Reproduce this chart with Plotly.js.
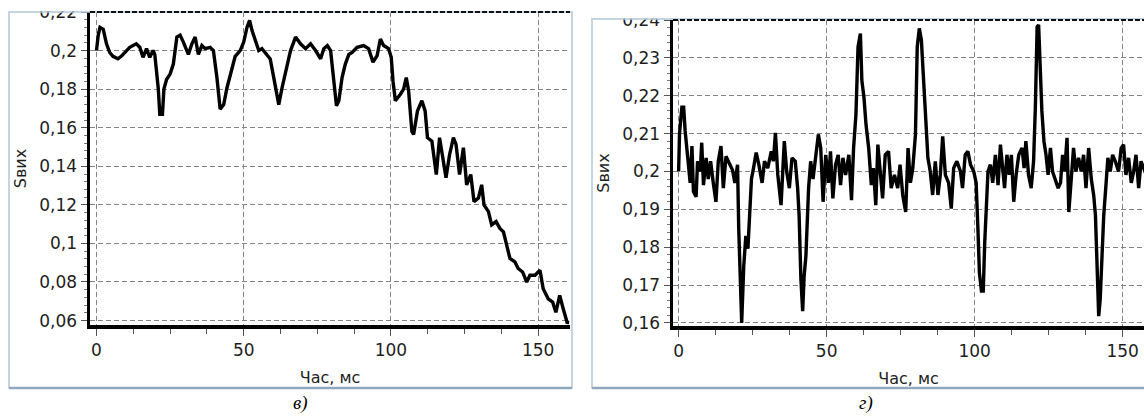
<!DOCTYPE html>
<html>
<head>
<meta charset="utf-8">
<script src="https://cdn.plot.ly/plotly-3.0.1.min.js"></script>
<style>html,body{margin:0;padding:0;background:#fff;}#chart{width:1144px;height:416px;}</style>
</head>
<body>
<div id="chart"></div>
<script>
// ---- data: panel в) ----
const timeV = [
 0, 0.6, 1.2, 2.3, 3.4, 4.5, 5.6, 7.3, 8.4, 10.1,
 11.3, 13.5, 14.7, 15.8, 17, 18.1, 19.2, 19.8, 21, 21.5,
 22.4, 22.9, 23.8, 25, 26.1, 27.3, 28.4, 29.5, 31.2, 32.4,
 33.5, 34.6, 35.8, 36.9, 38.6, 39.7, 40.9, 42, 43.2, 44.3,
 46, 47.1, 48.8, 50, 51.1, 52, 52.8, 54, 55.1, 56.2,
 57.9, 59, 60.2, 61.9, 63, 64.7, 65.9, 67.6, 69.3, 71,
 72.7, 74.4, 76.1, 77.2, 78.4, 79.5, 80.6, 81.5, 82.3, 83.4,
 84.5, 85.7, 86.8, 88.5, 90.7, 92.4, 93.9, 95.3, 96.4, 97.5,
 99.2, 100.1, 100.7, 101.5, 103.2, 104.3, 105.2, 106, 107.1, 107.7,
 109, 110.5, 111.6, 112.4, 113.9, 115.4, 116.5, 117.3, 118.7, 119.9,
 121.2, 122.1, 123.3, 124.6, 125.7, 127.1, 128.2, 129.7, 130.8, 131.6,
 133.1, 134.2, 135.7, 137, 138.2, 139.3, 140.4, 142.1, 143.2, 144.7,
 146.1, 147.2, 148.9, 150.6, 151.7, 153.4, 154.9, 156, 157.3, 158.5,
 159.8, 160.5
];
const sV = [
 0.200, 0.208, 0.212, 0.211, 0.2035, 0.199, 0.197, 0.1957, 0.197, 0.200,
 0.2017, 0.2035, 0.2017, 0.1965, 0.201, 0.1965, 0.200, 0.198, 0.180, 0.167,
 0.167, 0.180, 0.185, 0.1878, 0.193, 0.207, 0.208, 0.2044, 0.198, 0.2035,
 0.207, 0.198, 0.2026, 0.201, 0.2017, 0.200, 0.186, 0.1696, 0.172, 0.1806,
 0.190, 0.197, 0.200, 0.2044, 0.212, 0.2157, 0.2105, 0.2044, 0.200, 0.201,
 0.198, 0.1957, 0.186, 0.172, 0.1806, 0.1913, 0.200, 0.207, 0.2035, 0.201,
 0.2035, 0.200, 0.1957, 0.201, 0.2026, 0.200, 0.186, 0.1713, 0.174, 0.186,
 0.193, 0.198, 0.199, 0.2017, 0.2026, 0.201, 0.194, 0.1974, 0.206, 0.2026,
 0.201, 0.1965, 0.184, 0.174, 0.1774, 0.180, 0.186, 0.179, 0.158, 0.1565,
 0.1687, 0.174, 0.1687, 0.1548, 0.153, 0.1357, 0.1548, 0.148, 0.134, 0.146,
 0.1548, 0.1513, 0.1357, 0.1496, 0.1304, 0.1357, 0.1217, 0.1235, 0.1304, 0.120,
 0.1165, 0.1096, 0.1113, 0.1078, 0.106, 0.0991, 0.0922, 0.0904, 0.087, 0.0852,
 0.080, 0.0835, 0.0835, 0.0861, 0.0765, 0.0713, 0.0696, 0.0643, 0.073, 0.0661,
 0.0591, 0.059
];

// ---- data: panel г) ----
const timeG = [
 0, 0.3, 1.1, 1.7, 2.2, 2.8, 3.3, 3.9, 4.5, 5.0,
 5.9, 6.4, 7.3, 7.8, 8.4, 9.3, 10.0, 10.8, 11.7, 12.6,
 13.4, 14.3, 15.1, 16.0, 17.1, 18.2, 19.0, 19.9, 20.3, 20.9,
 21.3, 22.0, 22.7, 23.4, 24.0, 24.6, 25.3, 26.2, 27.1, 28.2,
 29.0, 30.1, 31.3, 32.0, 32.7, 33.5, 34.6, 35.7, 36.5, 37.4,
 38.3, 39.4, 40.2, 40.7, 41.3, 41.9, 42.4, 43.0, 43.9, 44.6,
 45.4, 46.3, 47.2, 48.0, 48.8, 49.7, 50.6, 51.3, 52.1, 53.0,
 53.9, 54.7, 55.5, 56.4, 57.5, 58.4, 59.1, 59.9, 60.6, 61.4,
 61.9, 62.6, 63.3, 64.2, 65.1, 65.8, 66.6, 67.3, 68.1, 68.9,
 69.8, 70.9, 71.8, 72.9, 74.0, 74.8, 75.7, 76.7, 77.5, 78.3,
 79.1, 80.0, 80.6, 81.3, 82.0, 82.8, 83.6, 84.2, 85.0, 85.8,
 86.7, 87.6, 88.4, 89.2, 90.1, 91.2, 92.1, 92.9, 94.0, 95.2,
 95.9, 96.8, 97.7, 98.6, 99.7, 100.5, 101.1, 101.6, 102.3, 102.9,
 103.4, 103.8, 104.5, 105.3, 106.1, 107.0, 107.9, 108.7, 109.5, 110.1,
 110.9, 111.7, 112.4, 113.2, 114.0, 114.9, 116.0, 116.7, 117.3, 118.2,
 119.1, 119.9, 120.5, 121.1, 121.6, 122.2, 122.7, 123.4, 124.1, 124.8,
 125.6, 126.3, 127.2, 128.2, 129.0, 129.7, 130.4, 131.2, 131.8, 132.7,
 133.4, 134.2, 135.1, 136.0, 136.8, 137.6, 138.5, 139.4, 140.2, 140.8,
 141.3, 141.9, 142.4, 143.0, 143.6, 144.4, 145.0, 145.8, 146.6, 147.5,
 148.6, 149.5, 150.3, 151.1, 152.0, 152.9, 153.7, 154.5, 155.4, 156.2,
 157.2, 158.0
];
const sG = [
 0.200, 0.210, 0.217, 0.217, 0.2107, 0.206, 0.200, 0.197, 0.2067, 0.1947,
 0.1933, 0.2027, 0.200, 0.2076, 0.1964, 0.2036, 0.198, 0.2027, 0.197, 0.192,
 0.2027, 0.2067, 0.1956, 0.204, 0.2022, 0.2004, 0.197, 0.2018, 0.185, 0.168,
 0.160, 0.175, 0.183, 0.1796, 0.1893, 0.198, 0.2009, 0.205, 0.2018, 0.197,
 0.2027, 0.2009, 0.2053, 0.2027, 0.2102, 0.1991, 0.1911, 0.208, 0.200, 0.1956,
 0.2036, 0.2027, 0.1956, 0.1884, 0.1716, 0.1631, 0.1724, 0.1778, 0.1956, 0.2027,
 0.198, 0.204, 0.2098, 0.2062, 0.192, 0.2044, 0.197, 0.2053, 0.1929, 0.2018,
 0.2044, 0.1964, 0.2036, 0.1991, 0.2044, 0.1924, 0.2062, 0.2151, 0.2329, 0.2364,
 0.224, 0.2196, 0.2124, 0.2062, 0.1964, 0.2009, 0.1911, 0.2071, 0.200, 0.1929,
 0.2044, 0.2053, 0.1956, 0.1991, 0.1956, 0.2018, 0.1938, 0.1893, 0.2062, 0.197,
 0.2009, 0.2098, 0.2329, 0.2378, 0.2347, 0.2222, 0.2116, 0.2036, 0.200, 0.1938,
 0.2027, 0.1938, 0.1991, 0.2093, 0.1991, 0.197, 0.1902, 0.2009, 0.2027, 0.200,
 0.1956, 0.2044, 0.2053, 0.2018, 0.200, 0.197, 0.1849, 0.1733, 0.1684, 0.1684,
 0.1813, 0.1884, 0.200, 0.2018, 0.197, 0.2044, 0.1964, 0.2071, 0.200, 0.1956,
 0.2044, 0.1991, 0.2044, 0.192, 0.1991, 0.2044, 0.2062, 0.2009, 0.208, 0.1991,
 0.1956, 0.2027, 0.2169, 0.2382, 0.2387, 0.2258, 0.216, 0.208, 0.2044, 0.1991,
 0.2062, 0.200, 0.198, 0.1956, 0.197, 0.2044, 0.200, 0.2089, 0.1893, 0.200,
 0.2062, 0.200, 0.2036, 0.200, 0.2044, 0.1956, 0.2062, 0.198, 0.1938, 0.1884,
 0.1733, 0.1618, 0.1662, 0.1804, 0.1884, 0.197, 0.2036, 0.200, 0.2044, 0.2027,
 0.200, 0.2062, 0.2071, 0.1991, 0.2036, 0.197, 0.200, 0.2044, 0.1956, 0.2027,
 0.2009, 0.199
];

// ---- tick labels ----
const xTickVals = [0, 50, 100, 150];
const xTickText = ['0', '50', '100', '150'];
const yTickValsV = [0.06, 0.08, 0.10, 0.12, 0.14, 0.16, 0.18, 0.20, 0.22];
const yTickTextV = ['0,06', '0,08', '0,1', '0,12', '0,14', '0,16', '0,18', '0,2', '0,22'];
const yTickValsG = [0.16, 0.17, 0.18, 0.19, 0.20, 0.21, 0.22, 0.23, 0.24];
const yTickTextG = ['0,16', '0,17', '0,18', '0,19', '0,2', '0,21', '0,22', '0,23', '0,24'];
const xTitle = 'Час, мс';
const yTitle = 'Sвих';
const captions = ['в)', 'г)'];

// ---- layout helpers (pixel -> paper) ----
const W = 1144, H = 416;
const fx = p => p / W;
const fy = p => 1 - p / H;

const gridCol = '#858585';
const txtCol = '#1e1e1e';
const tickFont = {family: 'DejaVu Sans', size: 17, color: txtCol};
const titleFont = {family: 'DejaVu Sans', size: 16, color: txtCol};

function xAxis(domain, range, anchor) {
  return {
    domain: domain, range: range, anchor: anchor,
    tickmode: 'array', tickvals: xTickVals, ticktext: xTickText,
    ticks: 'outside', ticklen: 7, tickwidth: 1, tickcolor: '#555',
    tickfont: tickFont,
    showline: true, linecolor: '#000', linewidth: 3.5,
    showgrid: true, gridcolor: gridCol, gridwidth: 1, griddash: '5px,3px',
    zeroline: false, fixedrange: true,
    minor: {tickmode: 'linear', tick0: 0, dtick: 12.5, ticks: 'outside', ticklen: 5, tickcolor: '#555', showgrid: false},
    title: {text: xTitle, font: titleFont, standoff: 14}
  };
}
function yAxis(domain, range, anchor, vals, text, minorStep) {
  return {
    domain: domain, range: range, anchor: anchor,
    tickmode: 'array', tickvals: vals, ticktext: text,
    ticks: 'outside', ticklen: 6, tickwidth: 1, tickcolor: '#555',
    tickfont: tickFont,
    showline: true, linecolor: '#000', linewidth: 3.5,
    showgrid: true, gridcolor: gridCol, gridwidth: 1, griddash: '5px,3px',
    zeroline: false, fixedrange: true,
    minor: {tickmode: 'linear', tick0: 0, dtick: minorStep, ticks: 'outside', ticklen: 3, tickcolor: '#777', showgrid: false},
    title: {text: yTitle, font: titleFont, standoff: 9}
  };
}

const line = {color: '#000', width: 3.4};
const traces = [
  {x: timeV, y: sV, type: 'scatter', mode: 'lines', line: line, xaxis: 'x', yaxis: 'y', hoverinfo: 'skip'},
  {x: timeG, y: sG, type: 'scatter', mode: 'lines', line: line, xaxis: 'x2', yaxis: 'y2', hoverinfo: 'skip'}
];

const frameCol = '#b3c6d9';
const shapes = [
  // white covers above the frames (clip top tick labels)
  {type: 'rect', xref: 'paper', yref: 'paper', x0: 0, x1: fx(582), y0: fy(11), y1: 1, fillcolor: '#fff', line: {width: 0}, layer: 'above'},
  {type: 'rect', xref: 'paper', yref: 'paper', x0: fx(582), x1: 1, y0: fy(18.5), y1: 1, fillcolor: '#fff', line: {width: 0}, layer: 'above'},
  // panel frames
  {type: 'rect', xref: 'paper', yref: 'paper', x0: fx(9), x1: fx(572), y0: fy(388), y1: fy(12), line: {color: frameCol, width: 1.5}, layer: 'above'},
  {type: 'line', xref: 'paper', yref: 'paper', x0: fx(9), x1: fx(572), y0: fy(388), y1: fy(388), line: {color: '#8fa8c0', width: 2.5}, layer: 'above'},
  {type: 'rect', xref: 'paper', yref: 'paper', x0: fx(592), x1: fx(1150), y0: fy(388), y1: fy(19), line: {color: frameCol, width: 1.5}, layer: 'above'},
  {type: 'line', xref: 'paper', yref: 'paper', x0: fx(592), x1: 1, y0: fy(388), y1: fy(388), line: {color: '#8fa8c0', width: 2.5}, layer: 'above'},
  // dark dashed top borders of the plot areas
  {type: 'line', xref: 'paper', yref: 'paper', x0: fx(90), x1: fx(570), y0: fy(12), y1: fy(12), line: {color: '#111', width: 2, dash: '5px,2px'}, layer: 'above'},
  {type: 'line', xref: 'paper', yref: 'paper', x0: fx(673), x1: 1, y0: fy(20), y1: fy(20), line: {color: '#111', width: 2, dash: '5px,2px'}, layer: 'above'}
];

const capFont = {family: 'Liberation Serif', size: 19, color: '#000', style: 'italic', weight: 400};
const annotations = [
  {text: captions[0], xref: 'paper', yref: 'paper', x: fx(300), y: fy(402.5), showarrow: false, font: capFont, xanchor: 'center', yanchor: 'middle', borderpad: 0},
  {text: captions[1], xref: 'paper', yref: 'paper', x: fx(866), y: fy(402.5), showarrow: false, font: capFont, xanchor: 'center', yanchor: 'middle', borderpad: 0}
];

const layout = {
  width: W, height: H,
  margin: {l: 0, r: 0, t: 0, b: 0, pad: 0},
  paper_bgcolor: '#fff', plot_bgcolor: '#fff',
  showlegend: false,
  font: {family: 'DejaVu Sans', size: 16, color: txtCol},
  xaxis: xAxis([fx(90), fx(570)], [-2.2, 160.8], 'y'),
  yaxis: yAxis([fy(325), fy(12)], [0.0577, 0.2200], 'x', yTickValsV, yTickTextV, 0.004),
  xaxis2: xAxis([fx(673), 1], [-1.9, 157.2], 'y2'),
  yaxis2: yAxis([fy(326), fy(20)], [0.1592, 0.2400], 'x2', yTickValsG, yTickTextG, 0.002),
  shapes: shapes,
  annotations: annotations
};

Plotly.newPlot('chart', traces, layout, {displayModeBar: false, staticPlot: true});
</script>
</body>
</html>
